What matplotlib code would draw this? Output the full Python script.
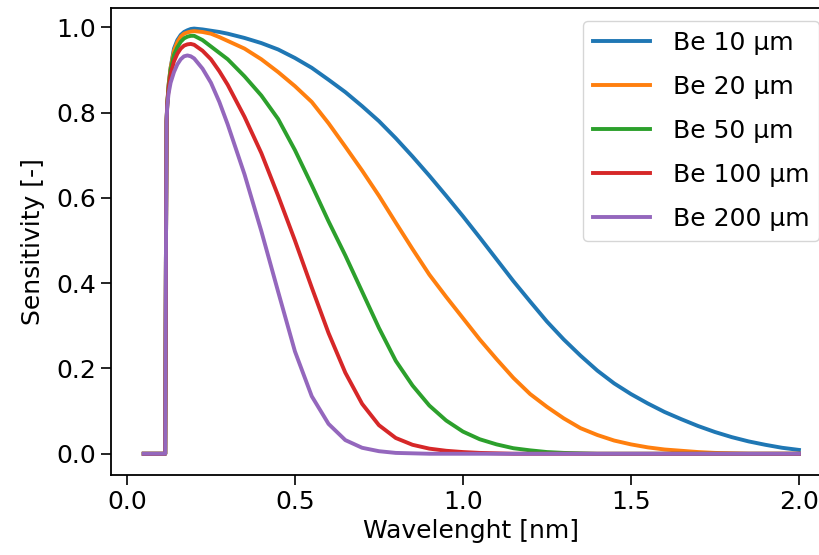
import numpy as np
from matplotlib import pyplot as plt

# wavelength grid (nm) and sensitivity
rise_x = [0.05, 0.114, 0.116, 0.118, 0.12, 0.124, 0.13, 0.14, 0.15, 0.16,
          0.17, 0.18, 0.19]
tail_x = [0.2, 0.225, 0.25, 0.275, 0.3, 0.35, 0.4, 0.45, 0.5, 0.55, 0.6,
          0.65, 0.7, 0.75, 0.8, 0.85, 0.9, 0.95, 1.0, 1.05, 1.1, 1.15, 1.2,
          1.25, 1.3, 1.35, 1.4, 1.45, 1.5, 1.55, 1.6, 1.65, 1.7, 1.75, 1.8,
          1.85, 1.9, 1.95, 2.0]
wavelength = np.array(rise_x + tail_x)

be_10 = [0, 0, 0.45, 0.78, 0.82, 0.865, 0.905, 0.95, 0.97, 0.982,
         0.989, 0.993, 0.996,
         0.997, 0.995, 0.992, 0.989, 0.985, 0.975, 0.963, 0.948, 0.928, 0.905,
         0.877, 0.848, 0.815, 0.78, 0.74, 0.697, 0.652, 0.605, 0.557, 0.507,
         0.456, 0.405, 0.357, 0.31, 0.268, 0.23, 0.195, 0.165, 0.14, 0.118,
         0.098, 0.081, 0.065, 0.051, 0.039, 0.029, 0.021, 0.014, 0.009]
be_20 = [0, 0, 0.45, 0.78, 0.82, 0.865, 0.905, 0.945, 0.965, 0.978,
         0.985, 0.988, 0.990,
         0.991, 0.989, 0.985, 0.977, 0.968, 0.95, 0.925, 0.895, 0.862, 0.825,
         0.775, 0.72, 0.664, 0.605, 0.542, 0.48, 0.42, 0.368, 0.318, 0.268,
         0.222, 0.178, 0.14, 0.11, 0.083, 0.06, 0.044, 0.031, 0.022, 0.015,
         0.010, 0.007, 0.004, 0.002, 0.001, 0.0, 0.0, 0.0, 0.0]
be_50 = [0, 0, 0.45, 0.78, 0.82, 0.86, 0.9, 0.935, 0.953, 0.966,
         0.974, 0.978, 0.98,
         0.98, 0.97, 0.955, 0.94, 0.925, 0.885, 0.84, 0.785, 0.712, 0.63,
         0.545, 0.465, 0.38, 0.295, 0.218, 0.16, 0.113, 0.078, 0.052, 0.034,
         0.022, 0.013, 0.008, 0.004, 0.002, 0.001, 0.0, 0.0, 0.0, 0.0,
         0.0, 0.0, 0.0, 0.0, 0.0, 0.0, 0.0, 0.0, 0.0]
be_100 = [0, 0, 0.45, 0.78, 0.82, 0.855, 0.89, 0.92, 0.938, 0.95,
          0.957, 0.96, 0.961,
          0.959, 0.945, 0.925, 0.897, 0.865, 0.79, 0.705, 0.605, 0.5, 0.39,
          0.283, 0.19, 0.117, 0.067, 0.037, 0.021, 0.012, 0.007, 0.004, 0.002,
          0.001, 0.0, 0.0, 0.0, 0.0, 0.0, 0.0, 0.0, 0.0, 0.0,
          0.0, 0.0, 0.0, 0.0, 0.0, 0.0, 0.0, 0.0, 0.0]
be_200 = [0, 0, 0.45, 0.78, 0.815, 0.845, 0.87, 0.895, 0.913, 0.925,
          0.932, 0.934, 0.932,
          0.927, 0.903, 0.87, 0.825, 0.772, 0.655, 0.522, 0.38, 0.24, 0.135,
          0.07, 0.032, 0.014, 0.006, 0.002, 0.001, 0.0, 0.0, 0.0, 0.0,
          0.0, 0.0, 0.0, 0.0, 0.0, 0.0, 0.0, 0.0, 0.0, 0.0,
          0.0, 0.0, 0.0, 0.0, 0.0, 0.0, 0.0, 0.0, 0.0]

series = [be_10, be_20, be_50, be_100, be_200]
labels = ["Be 10 µm", "Be 20 µm", "Be 50 µm", "Be 100 µm", "Be 200 µm"]

plt.rcParams["font.family"] = ["DejaVu Sans"]
plt.rcParams["font.size"] = 18

fig = plt.figure(figsize=(8.19, 5.55), dpi=100)
ax = fig.add_axes([0.1355, 0.144, 0.880, 0.8414])

for values, label in zip(series, labels):
    ax.plot(wavelength, values, lw=2.8, label=label)

ax.set_xlim(-0.0475, 2.0975)
ax.set_ylim(-0.05, 1.045)
ax.set_xticks([0.0, 0.5, 1.0, 1.5, 2.0])
ax.set_yticks([0.0, 0.2, 0.4, 0.6, 0.8, 1.0])
ax.tick_params(length=7, width=1.2, labelsize=18)
for s in ax.spines.values():
    s.set_linewidth(1.3)

ax.set_xlabel("Wavelenght [nm]", fontsize=18, labelpad=4)
ax.set_ylabel("Sensitivity [-]", fontsize=18, labelpad=8)
ax.legend(loc="upper right", fontsize=18, handlelength=2.3,
          handletextpad=0.9, labelspacing=0.8)

fig.savefig("out.png", dpi=100)
